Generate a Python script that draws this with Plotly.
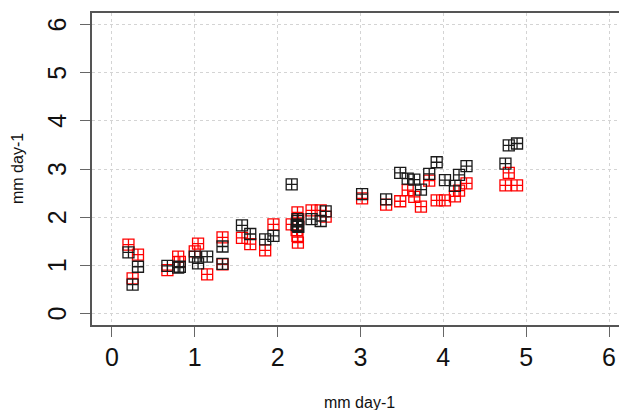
import plotly.graph_objects as go

# x positions (shared), black series and red series values (mm day-1)
x_vals = [0.20, 0.315, 0.25, 0.67, 0.80, 0.82, 1.00, 1.04, 1.15, 1.335, 1.335,
          1.57, 1.67, 1.85, 1.95, 2.17, 2.24, 2.25, 2.23, 2.24, 2.245,
          2.41, 2.52, 2.58, 3.02, 3.31, 3.48, 3.57, 3.65, 3.73, 3.83, 3.92,
          4.02, 4.14, 4.19, 4.28, 4.75, 4.79, 4.89]
black_vals = [1.27, 0.97, 0.60, 0.99, 0.95, 0.97, 1.18, 1.04, 1.18, 1.39, 1.03,
              1.83, 1.65, 1.54, 1.61, 2.68, 1.96, 1.80, 1.84, 1.92, 1.82,
              1.96, 1.92, 2.12, 2.48, 2.37, 2.92, 2.80, 2.78, 2.57, 2.90, 3.14,
              2.77, 2.65, 2.88, 3.06, 3.11, 3.49, 3.53]
red_vals = [1.43, 1.22, 0.73, 0.90, 1.18, 1.07, 1.29, 1.45, 0.81, 1.58, 1.02,
            1.57, 1.44, 1.31, 1.85, 1.85, 2.10, 1.96, 1.73, 1.61, 1.47,
            2.14, 2.14, 2.01, 2.39, 2.26, 2.33, 2.56, 2.42, 2.22, 2.76, 2.35,
            2.35, 2.43, 2.55, 2.70, 2.66, 2.92, 2.66]
tick_vals = [0, 1, 2, 3, 4, 5, 6]
axis_title = "mm day-1"

fig = go.Figure()
fig.add_trace(go.Scatter(
    x=x_vals, y=red_vals, mode="markers", name="red",
    marker=dict(symbol="square-cross-open", size=11, color="red",
                line=dict(width=1.3, color="red")),
))
fig.add_trace(go.Scatter(
    x=x_vals, y=black_vals, mode="markers", name="black",
    marker=dict(symbol="square-cross-open", size=11, color="#1a1a1a",
                line=dict(width=1.3, color="#1a1a1a")),
))

font_family = "Liberation Sans, Arial, sans-serif"
# the page body adds an 8px offset, so the figure is sized to fit the window
fig.update_layout(
    width=619, height=402,
    margin=dict(l=84, r=0, t=5, b=85),
    paper_bgcolor="white", plot_bgcolor="white",
    showlegend=False,
    font=dict(family=font_family, color="#111111"),
)
fig.update_xaxes(
    range=[-0.24, 6.217], tickvals=tick_vals,
    ticktext=[str(v) for v in tick_vals],
    automargin=False,
    showline=True, linecolor="#555555", linewidth=1.6, mirror=True,
    ticks="outside", ticklen=10, tickwidth=1.4, tickcolor="#666666",
    ticklabelstandoff=-1,
    tickfont=dict(size=25, family=font_family, color="#111111"),
    showgrid=True, gridcolor="#d4d4d4", griddash="dot", gridwidth=1,
    zeroline=False,
)
fig.update_yaxes(
    range=[-0.24, 6.24], tickvals=tick_vals,
    automargin=False, showticklabels=False,
    showline=True, linecolor="#555555", linewidth=1.6, mirror=False,
    ticks="outside", ticklen=10, tickwidth=1.4, tickcolor="#666666",
    showgrid=True, gridcolor="#d4d4d4", griddash="dot", gridwidth=1,
    zeroline=False,
)

# rotated y tick labels (R style, las=0)
for v in tick_vals:
    fig.add_annotation(
        x=0, xref="paper", y=v, yref="y", text=str(v), textangle=-90,
        showarrow=False, xanchor="center", yanchor="middle", xshift=-35,
        font=dict(size=25, family=font_family, color="#111111"),
    )

# axis titles
fig.add_annotation(
    x=0.5, xref="paper", y=0, yref="paper", text=axis_title,
    showarrow=False, xanchor="center", yanchor="middle", yshift=-77,
    font=dict(size=16, family=font_family, color="#111111"),
)
fig.add_annotation(
    x=0, xref="paper", y=0.5, yref="paper", text=axis_title, textangle=-90,
    showarrow=False, xanchor="center", yanchor="middle", xshift=-75,
    font=dict(size=16, family=font_family, color="#111111"),
)

fig.write_html("out.html")
